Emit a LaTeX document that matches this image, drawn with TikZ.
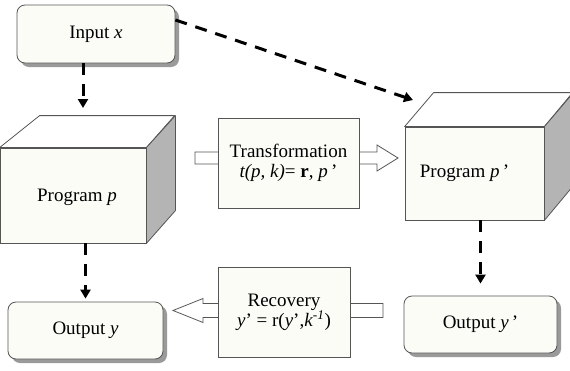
\documentclass[tikz,border=0pt]{standalone}
\usepackage{fontspec}
\setmainfont{Liberation Serif}
\usetikzlibrary{arrows.meta,calc,shadows}
\definecolor{boxfill}{HTML}{FCFCF6}
\definecolor{edge}{HTML}{555555}
\definecolor{sidegray}{HTML}{B4B4B4}
\definecolor{shadowgray}{HTML}{9A9A9A}
\begin{document}
\begin{tikzpicture}[x=1pt,y=-1pt,
  font=\fontsize{19pt}{21pt}\selectfont,
  rbox/.style={draw=edge, fill=boxfill, line width=0.8pt, rounded corners=8pt, inner sep=0pt,
    drop shadow={shadow xshift=4pt, shadow yshift=-4pt, fill=shadowgray, opacity=1}},
  tbox/.style={draw=edge, fill=boxfill, line width=0.8pt, inner sep=0pt, align=center},
  frontface/.style={draw=edge, fill=boxfill, line width=0.8pt, inner sep=0pt},
  topface/.style={draw=edge, fill=white, line width=0.8pt, line join=round},
  sideface/.style={draw=edge, fill=sidegray, line width=0.8pt, line join=round},
  hollow/.style={draw=edge, fill=white, line width=0.8pt},
  dasharrow/.style={line width=3pt, dash pattern=on 12pt off 9pt,
    -{Triangle[length=9pt,width=10pt]}}
]
\useasboundingbox (0,0) rectangle (570,370);
\clip (0,0) rectangle (570,370);
\fill[white] (0,0) rectangle (570,370);

% hollow arrows (behind the boxes)
\coordinate (ts) at (195,158);
\coordinate (tt) at (398,158);
\draw[hollow] ($(ts)+(0,-6)$) -- ($(tt)+(-21,-6)$) -- ($(tt)+(-21,-13)$) -- (tt)
  -- ($(tt)+(-21,13)$) -- ($(tt)+(-21,6)$) -- ($(ts)+(0,6)$) -- cycle;
\coordinate (rs) at (383,310.5);
\coordinate (rt) at (173,310.5);
\draw[hollow] ($(rs)+(0,-7)$) -- ($(rt)+(30,-7)$) -- ($(rt)+(30,-12)$) -- (rt)
  -- ($(rt)+(30,12)$) -- ($(rt)+(30,7)$) -- ($(rs)+(0,7)$) -- cycle;

% boxes
\node[rbox, minimum width=158pt, minimum height=58pt] (in) at (96,34) {Input \textit{x}};
\node[rbox, minimum width=155pt, minimum height=57pt] (out) at (85.5,330.5) {Output \textit{y}};
\node[rbox, minimum width=153pt, minimum height=57pt] (outp) at (480.5,324.5) {Output \textit{y}\,’};
\node[tbox, minimum width=141pt, minimum height=90pt] (tr) at (288.5,163)
  {Transformation\\[-1pt] \textit{t(p, k)}= \textbf{r}, \textit{p}\,’};
\node[tbox, minimum width=132pt, minimum height=90pt] (rec) at (284,312)
  {Recovery\\[-1pt] \textit{y}’ = r(\textit{y}’,\textit{k}\textsuperscript{\textit{-1}})};

% cube p
\node[frontface, minimum width=146pt, minimum height=95pt] (pp) at (73,195.5) {};
\draw[topface] (pp.north west) -- ++(40,-32) -- ++(135,0) -- (pp.north east) -- cycle;
\draw[sideface] (pp.north east) -- ++(29,-32) -- ++(0,95) -- (pp.south east) -- cycle;
\node at ($(pp.center)+(4,2)$) {Program \textit{p}};

% cube p'
\node[frontface, minimum width=139pt, minimum height=93pt] (ppp) at (474.5,173.5) {};
\draw[topface] (ppp.north west) -- ++(29,-34) -- ++(139,0) -- (ppp.north east) -- cycle;
\draw[sideface] (ppp.north east) -- ++(29,-34) -- ++(0,93) -- (ppp.south east) -- cycle;
\node at ($(ppp.center)+(-10,0)$) {Program \textit{p}\,’};

% dashed arrows
\coordinate (pptop) at (83,116);
\draw[dasharrow, shorten >=8pt] (in.south -| pptop) -- (pptop);
\coordinate (ppptop) at (413,100);
\draw[dasharrow] ([yshift=14pt]in.east) -- (ppptop);
\draw[dasharrow, shorten >=3pt] (pp.south -| out.north) -- (out.north);
\draw[dasharrow, shorten >=12pt] (ppp.south -| outp.north) -- (outp.north);
\end{tikzpicture}
\end{document}
